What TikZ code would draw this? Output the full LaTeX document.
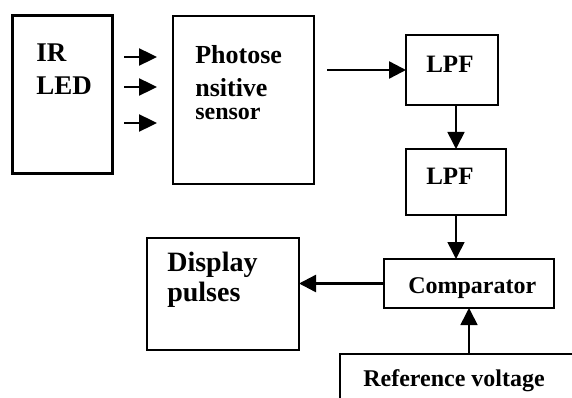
\documentclass[tikz,border=0pt]{standalone}
\usepackage{fontspec}
\setmainfont{Liberation Serif}
\usetikzlibrary{arrows.meta,positioning}

\begin{document}
\begin{tikzpicture}[x=1pt,y=-1pt,>={Triangle[length=17pt,width=17pt]},
                    line width=2.6pt]

  \tikzstyle{block}=[rectangle,draw,inner sep=0pt,outer sep=0pt]
  \tikzstyle{txt}=[inner sep=0pt,anchor=north west,align=left]
  \tikzstyle{wire}=[->,line width=2.4pt]

  \clip (0,0) rectangle (572,398);

  \node[block,minimum width=100pt,minimum height=157pt,anchor=north west,line width=3pt] (ir) at (12,16) {};
  \node[block,minimum width=141pt,minimum height=168pt] (photo) [right=61pt of ir.north east,anchor=north west] {};
  \node[block,minimum width=92pt,minimum height=70pt]   (lpfa)  [right=92pt of photo.north east,anchor=north west,yshift=-19pt] {};
  \node[block,minimum width=100pt,minimum height=66pt]  (lpfb)  [below=44pt of lpfa.south west,anchor=north west] {};
  \node[block,minimum width=170pt,minimum height=49pt,line width=2.2pt] (comp) [below=44pt of lpfb.south,anchor=north,xshift=13pt] {};
  \node[block,minimum width=152pt,minimum height=112pt] (disp)  [left=85pt of comp.north west,anchor=north east,yshift=21pt] {};
  \node[block,minimum width=260pt,minimum height=80pt,line width=2pt] (ref) [below=46pt of comp.south west,anchor=north west,xshift=-44pt] {};

  \node[txt,font=\bfseries\fontsize{27}{33}\selectfont] (ir-t)    at ([shift={(23,27)}]ir.north west)    {IR\\LED};
  \node[txt,font=\bfseries\fontsize{26}{33}\selectfont] (photo-t) at ([shift={(21,28)}]photo.north west) {Photose\\nsitive\\[-10pt]{\fontsize{24}{24}\selectfont sensor}};
  \node[txt,font=\bfseries\fontsize{25}{30}\selectfont] (lpfa-t)  at ([shift={(19,20)}]lpfa.north west)  {LPF};
  \node[txt,font=\bfseries\fontsize{25}{30}\selectfont] (lpfb-t)  at ([shift={(19,18)}]lpfb.north west)  {LPF};
  \node[txt,font=\bfseries\fontsize{28}{30}\selectfont] (disp-t)  at ([shift={(19,13)}]disp.north west)  {Display\\pulses};
  \node[txt,font=\bfseries\fontsize{24}{28}\selectfont] (comp-t)  at ([shift={(23,17)}]comp.north west)  {Comparator};
  \node[txt,font=\bfseries\fontsize{24}{28}\selectfont] (ref-t)   at ([shift={(22,14)}]ref.north west)   {Reference voltage};

  % light from the LED
  \foreach \dy [count=\i] in {41,71,107} {
    \coordinate (ray\i) at ([shift={(12,\dy)}]ir.north east);
    \draw[wire,>={Triangle[length=18pt,width=17pt]}] (ray\i) -- ++(33,0);
  }

  \draw[wire,shorten <=13pt] (photo.east |- lpfa.west) -- (lpfa.west);
  \draw[wire,line width=1.6pt] (lpfa.south -| lpfb.north) -- (lpfb.north);
  \draw[wire,line width=1.6pt] (lpfb.south) -- (lpfb.south |- comp.north);
  \draw[wire] (comp.west) -- (comp.west -| disp.east);
  \draw[wire,line width=1.6pt] (ref.north -| comp.south) -- (comp.south);
\end{tikzpicture}
\end{document}
